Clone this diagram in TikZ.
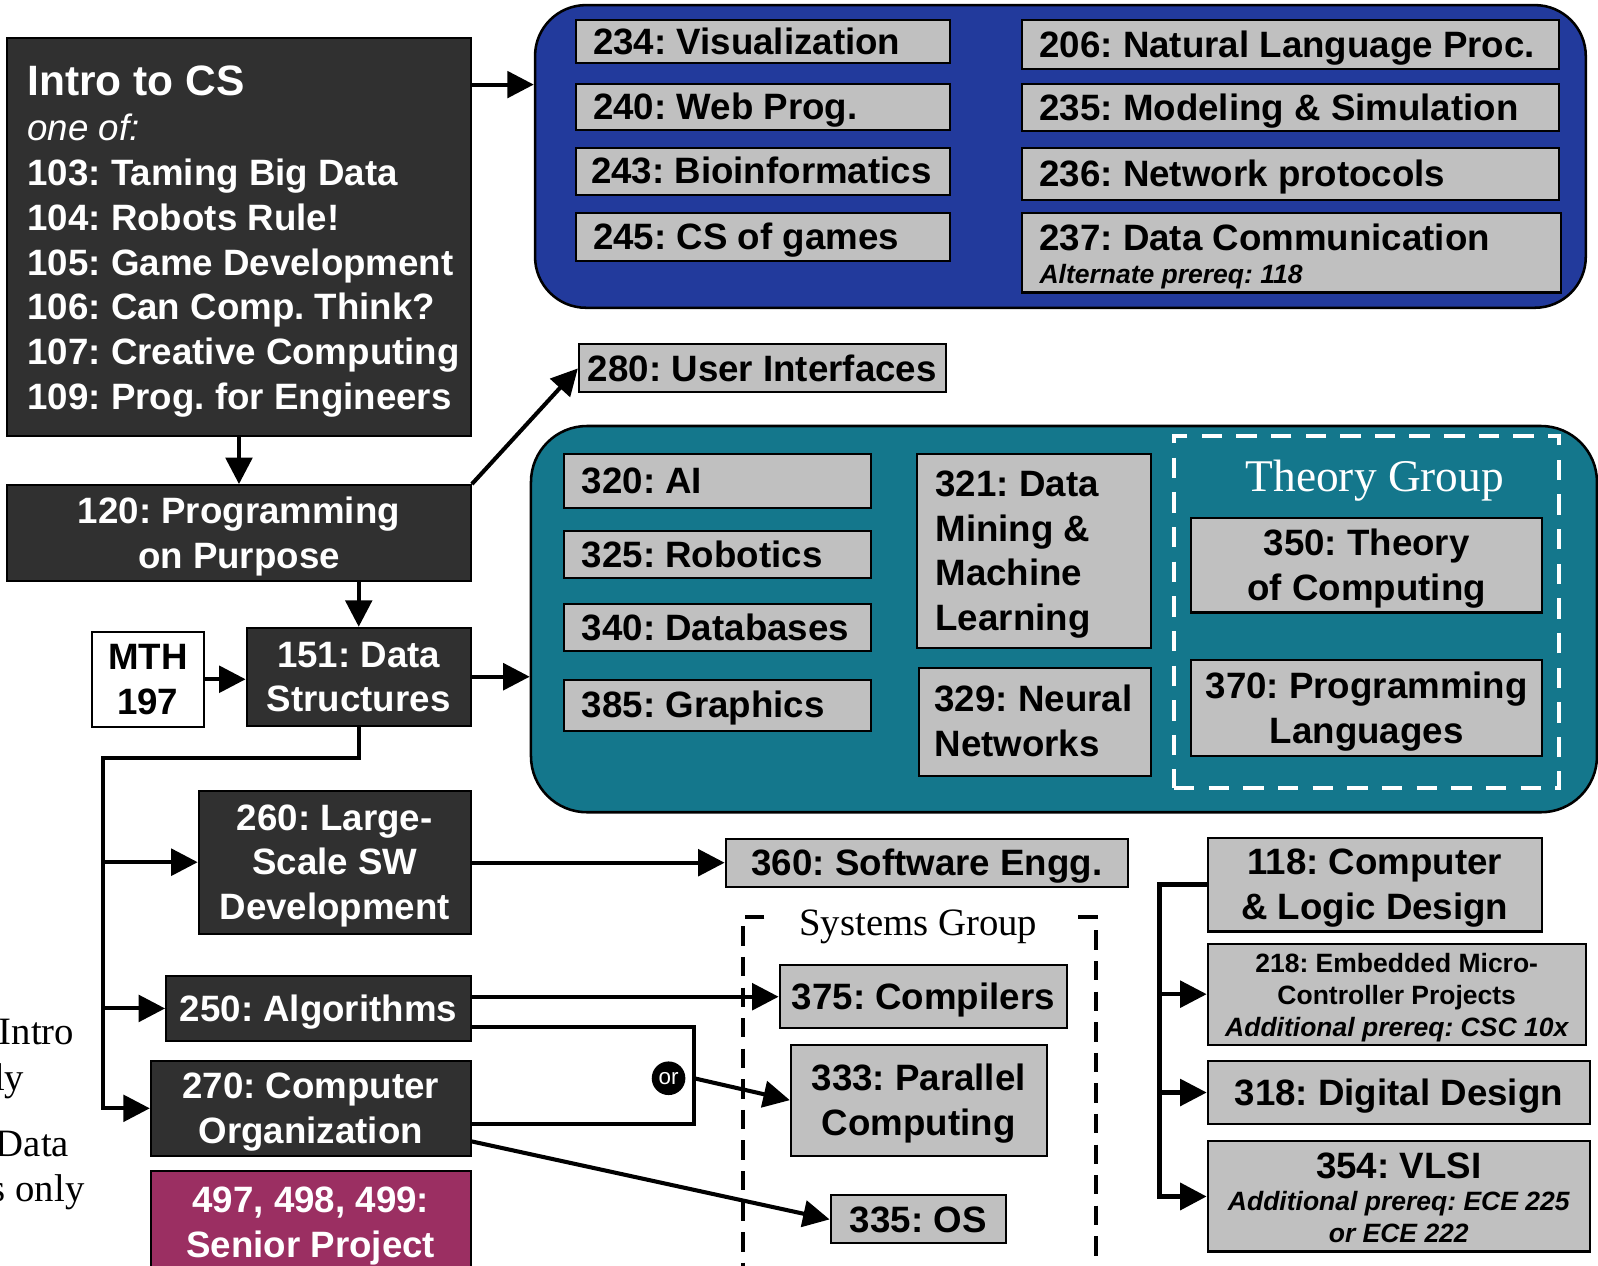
\documentclass[tikz,border=0pt]{standalone}
\usepackage{fontspec}
\setmainfont{Liberation Sans}
\newfontfamily\seriff{Liberation Serif}
\usetikzlibrary{arrows.meta}
\definecolor{darkbox}{HTML}{303030}
\definecolor{boxgray}{HTML}{C0C0C0}
\definecolor{grpblue}{HTML}{223A9C}
\definecolor{grpteal}{HTML}{14778C}
\definecolor{senior}{HTML}{9B2F62}
\frenchspacing
\hyphenpenalty=10000
\exhyphenpenalty=10000
\def\topstrut{32.6}
% #1 style, #2 name, #3 horizontal padding, #4 x1, #5 y1, #6 x2, #7 y2, #8 text
\newcommand\cbox[8]{%
  \pgfmathsetmacro\bx{(#4+#6)/2}%
  \pgfmathsetmacro\by{(#5+#7)/2}%
  \pgfmathsetmacro\bw{#6-#4}%
  \pgfmathsetmacro\bh{#7-#5}%
  \pgfmathsetmacro\tw{#6-#4-2*#3}%
  \node[#1, inner xsep=#3pt, minimum width=\bw pt, minimum height=\bh pt, text width=\tw pt] (#2) at (\bx,\by) {\rule{0pt}{\topstrut pt}#8\rule[-7.6pt]{0pt}{0pt}\par};%
}
\begin{document}
\begin{tikzpicture}[x=1pt,y=-1pt,
  cbx/.style={draw=black, line width=2pt, inner ysep=0pt, font=\fontsize{36}{44}\selectfont\bfseries\frenchspacing},
  gbox/.style={cbx, fill=boxgray, text=black},
  dbox/.style={cbx, fill=darkbox, text=white},
  conn/.style={line width=4pt},
  arr/.style={conn, -{Triangle[length=26pt,width=26pt]}},
  grp/.style={draw=black, line width=2.5pt, rounded corners=50pt, inner sep=0pt},
  lbl/.style={font=\seriff\fontsize{44.5}{44.5}\selectfont, inner sep=0pt},
  sysdash/.style={line width=4pt, dash pattern=on 19pt off 11pt},
  lefttxt/.style={font=\seriff\fontsize{38}{38}\selectfont, anchor=base east, inner sep=0pt}
]
\useasboundingbox (0,0) rectangle (1568,1242);

% ---------- groups ----------
\node[grp, fill=grpblue, minimum width=1031pt, minimum height=297pt] (blueg) at (1040.5,153.5) {};
\node[grp, fill=grpteal, minimum width=1046pt, minimum height=379pt, rounded corners=55pt] (tealg) at (1044,607.5) {};
\node[draw=white, line width=4pt, dash pattern=on 20pt off 14pt, minimum width=378pt, minimum height=345pt, inner sep=0pt] (theory) at (1341,600.5) {};
\node[lbl, text=white, anchor=base] (theorylbl) at (1349,482) {Theory Group};

\coordinate (sysTL) at (729,900);
\coordinate (sysTR) at (1075,900);
\draw[sysdash] (750,900) -- (sysTL) -- (729,1262);
\draw[sysdash] (1058,900) -- (sysTR) -- (1075,1262);
\node[lbl, font=\seriff\fontsize{38}{38}\selectfont, anchor=base] (syslbl) at (901,918) {Systems Group};

% ---------- left column ----------
\def\topstrut{38.6}
\cbox{dbox,align=flush left}{intro}{0}{7}{37}{462}{428}{\leftskip=20pt\relax{\fontsize{41.7}{44}\selectfont Intro to CS}\\{\mdseries\itshape one of:}\\103: Taming Big Data\\104: Robots Rule!\\105: Game Development\\106: Can Comp. Think?\\107: Creative Computing\\109: Prog. for Engineers}
\def\topstrut{32.6}
\cbox{dbox,align=flush center}{n120}{12}{7}{476}{462}{570}{120: Programming\\on Purpose}
\cbox{dbox,align=flush center}{n151}{8}{242}{616}{462}{712}{151: Data\\Structures}
\cbox{cbx,fill=white,align=flush center}{mth}{6}{90}{620}{200}{713}{MTH\\197}
\cbox{dbox,align=flush center}{n260}{8}{195}{776}{462}{916}{260: Large-\\Scale SW\\Development}
\cbox{dbox,align=flush center}{n250}{8}{163}{958}{462}{1021}{250: Algorithms}
\cbox{dbox,align=flush center}{n270}{8}{148}{1041}{462}{1134}{270: Computer\\Organization}
\cbox{dbox,fill=senior,align=flush center}{n497}{8}{148}{1149}{462}{1250}{497, 498, 499:\\Senior Project}

% ---------- blue group boxes ----------
\cbox{gbox,align=flush left}{n234}{17}{565}{20}{932}{62}{234: Visualization}
\cbox{gbox,align=flush left}{n240}{17}{565}{82}{932}{128}{240: Web Prog.}
\cbox{gbox,align=flush left}{n243}{15}{565}{145}{932}{191}{243: Bioinformatics}
\cbox{gbox,align=flush left}{n245}{17}{565}{209}{932}{256}{245: CS of games}
\cbox{gbox,align=flush left}{n206}{17}{1003}{20}{1530}{68}{206: Natural Language Proc.}
\cbox{gbox,align=flush left}{n235}{17}{1003}{82}{1530}{129}{235: Modeling \& Simulation}
\cbox{gbox,align=flush left}{n236}{17}{1003}{145}{1530}{196}{236: Network protocols}
\def\topstrut{35.4}
\cbox{gbox,align=flush left}{n237}{17}{1003}{209}{1532}{287}{237: Data Communication\\[-12pt]{\fontsize{26}{30}\selectfont\itshape Alternate prereq: 118}}
\def\topstrut{32.6}

\cbox{gbox,align=flush center}{n280}{6}{568}{338}{928}{385}{280: User Interfaces}

% ---------- teal group boxes ----------
\cbox{gbox,align=flush left}{n320}{18}{553}{445}{855}{498}{320: AI}
\cbox{gbox,align=flush left}{n325}{18}{553}{521}{855}{567}{325: Robotics}
\cbox{gbox,align=flush left}{n340}{18}{553}{593}{855}{639}{340: Databases}
\cbox{gbox,align=flush left}{n385}{18}{553}{667}{855}{717}{385: Graphics}
\cbox{gbox,align=flush left}{n321}{18}{900}{445}{1129}{636}{321: Data\\Mining \&\\Machine\\Learning}
\cbox{gbox,align=flush left}{n329}{15}{902}{655}{1129}{761}{329: Neural\\Networks}
\cbox{gbox,align=flush center}{n350}{10}{1169}{508}{1513}{601}{350: Theory\\of Computing}
\cbox{gbox,align=flush center}{n370}{8}{1169}{648}{1513}{742}{370: Programming\\Languages}

% ---------- lower middle ----------
\cbox{gbox,align=flush center}{n360}{10}{712}{823}{1107}{870}{360: Software Engg.}
\cbox{gbox,align=flush center}{n375}{8}{765}{947}{1047}{1009}{375: Compilers}
\cbox{gbox,align=flush center}{n333}{8}{776}{1025}{1027}{1134}{333: Parallel\\Computing}
\cbox{gbox,align=flush center}{n335}{8}{815}{1173}{987}{1220}{335: OS}

% ---------- right column ----------
\cbox{gbox,align=flush center}{n118}{10}{1185}{822}{1513}{914}{118: Computer\\\& Logic Design}
\def\topstrut{28.2}
\cbox{gbox,align=flush center}{n218}{8}{1185}{931}{1556}{1020}{\fontsize{26}{31.5}\selectfont 218: Embedded Micro-\\Controller Projects\\{\itshape Additional prereq: CSC 10x}}
\def\topstrut{32.6}
\cbox{gbox,align=flush center}{n318}{10}{1185}{1041}{1560}{1103}{318: Digital Design}
\def\topstrut{34.4}
\cbox{gbox,align=flush center}{n354}{8}{1185}{1120}{1560}{1228}{354: VLSI\\[-12pt]{\fontsize{26}{31}\selectfont\itshape Additional prereq: ECE 225}\\[-13pt]{\fontsize{26}{31}\selectfont\itshape or ECE 222}}
\def\topstrut{32.6}

% ---------- clipped text at left edge ----------
\node[lefttxt] (lt1) at (73,1025) {Intro};
\node[lefttxt] (lt2) at (24,1070) {ly};
\node[lefttxt] (lt3) at (68,1135) {Data};
\node[lefttxt] (lt4) at (83,1179) {s only};

% ---------- connectors ----------
\coordinate (y83) at (0,83);
\draw[arr] (intro.east |- y83) -- (blueg.west |- y83);
\draw[arr] (intro.south) -- (n120.north);
\draw[arr] (n120.north east) -- (n280.west);
\draw[arr] (n120.south -| n151.north) -- (n151.north);
\draw[arr] (mth.east) -- (n151.west |- mth.east);
\draw[arr] (n151.east) -- (tealg.west |- n151.east);

\coordinate (bus) at (101,744);
\draw[arr] (n151.south) |- (bus) |- (n270.west);
\draw[arr] (bus |- n260.west) -- (n260.west);
\draw[arr] (bus |- n250.west) -- (n250.west);

\draw[arr] (n260.east |- n360.west) -- (n360.west);
\draw[arr] (n250.east |- n375.west) -- (n375.west);

\coordinate (orTR) at (681,1008);
\coordinate (orBR) at (681,1103);
\coordinate (orM) at (681,1058);
\draw[conn] (n250.east |- orTR) -- (orTR) -- (orBR) -- (n270.east |- orBR);
\node[circle, fill=black, text=white, inner sep=0pt, minimum size=33pt, font=\fontsize{22}{22}\selectfont] (orn) at (656,1058) {or};
\draw[arr] (orM) -- (n333.west);

\coordinate (c270) at (462,1120);
\draw[arr] (n270.east |- c270) -- (n335.west);

\coordinate (rb) at (1138,868);
\draw[arr, line width=5pt] (n118.west) -- (rb) |- (n354.west);
\draw[arr] (rb |- n218.west) -- (n218.west);
\draw[arr] (rb |- n318.west) -- (n318.west);
\end{tikzpicture}
\end{document}
